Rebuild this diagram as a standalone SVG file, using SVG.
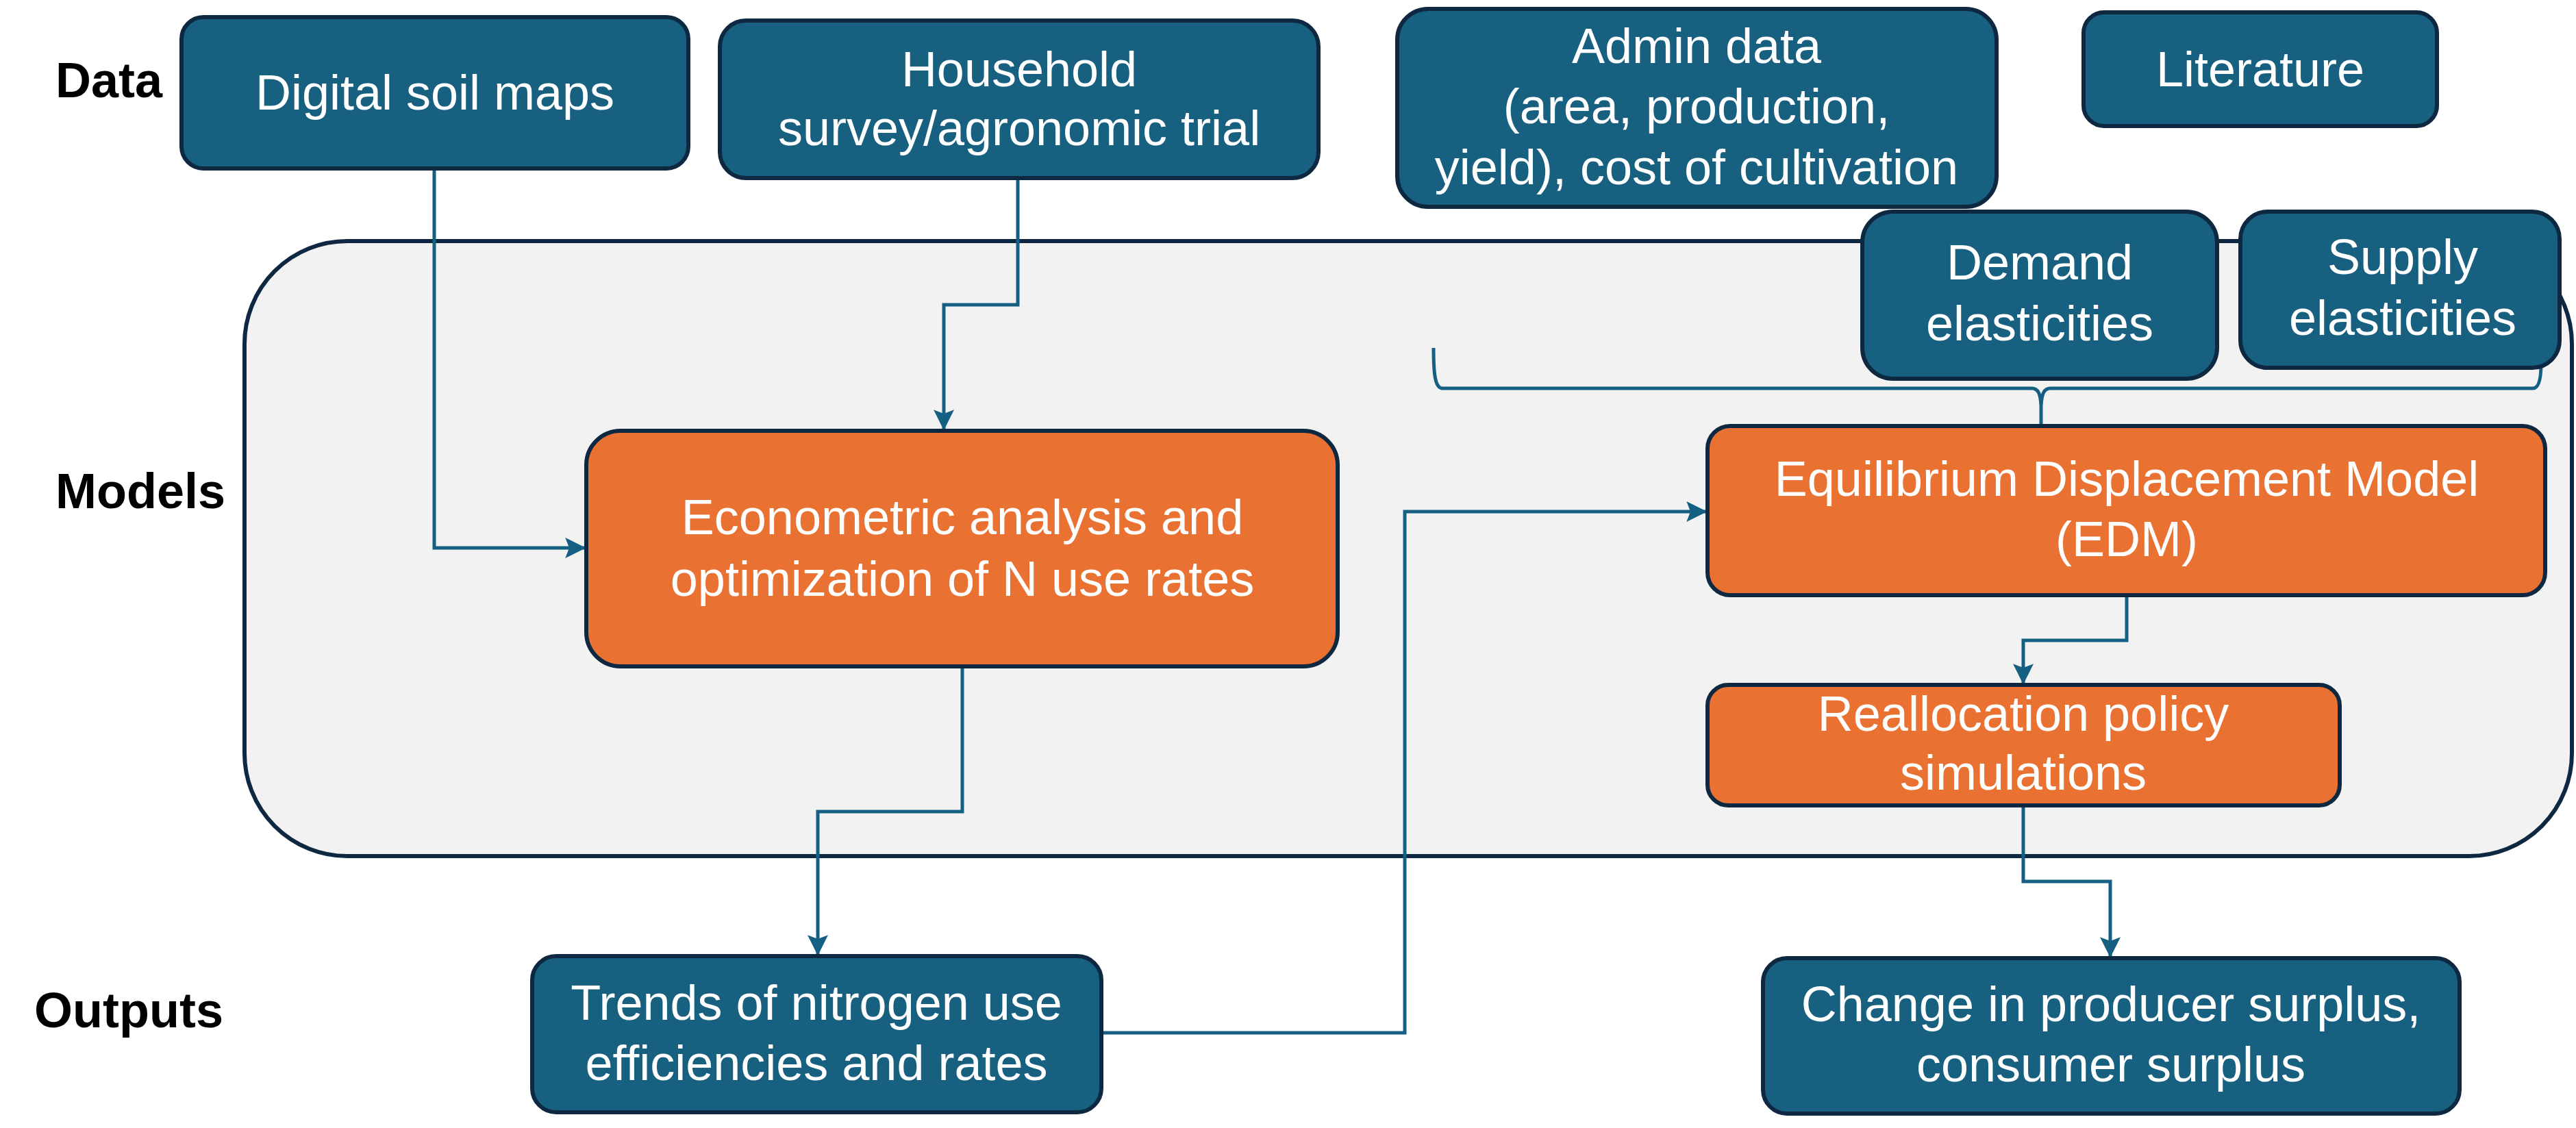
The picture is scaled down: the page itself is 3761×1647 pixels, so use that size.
<svg xmlns="http://www.w3.org/2000/svg" width="3761" height="1647" viewBox="0 0 3761 1647">
<defs>
<style>
.blue{fill:#17607F;stroke:#0E2841;stroke-width:6}
.orange{fill:#E97132;stroke:#0E2841;stroke-width:6}
.t{font-family:"Liberation Sans",Arial,sans-serif;font-size:72px;fill:#FFFFFF;text-anchor:middle}
.lbl{font-family:"Liberation Sans",Arial,sans-serif;font-size:72px;font-weight:bold;fill:#000000}
.conn{fill:none;stroke:#156082;stroke-width:5}
</style>
<marker id="arr" markerUnits="userSpaceOnUse" markerWidth="30" markerHeight="30" viewBox="0 0 26 26" refX="24" refY="13" orient="auto">
<path d="M0,0 L26,13 L0,26 L5,13 Z" fill="#156082"/>
</marker>
</defs>
<rect width="3761" height="1647" fill="#FFFFFF"/>

<g id="labels">
<text class="lbl" x="81" y="142">Data</text>
<text class="lbl" x="81" y="742">Models</text>
<text class="lbl" x="50" y="1500">Outputs</text>
</g>

<g id="models-container">
<rect x="357" y="352" width="3398" height="898" rx="150" ry="150" fill="#F2F2F2" stroke="#0E2841" stroke-width="6"/>
</g>

<g id="brace">
<path class="conn" d="M2093,508 C2093,545 2095,567 2106,567 L2966,567 C2976,567 2979,575 2980,592 L2980,622 M2980,592 C2981,575 2984,567 2994,567 L3698,567 C3708,567 3710,548 3710,531"/>
</g>

<g id="connectors">
<path class="conn" d="M634,246 L634,800 L853,800" marker-end="url(#arr)"/>
<path class="conn" d="M1486,260 L1486,445 L1378,445 L1378,626" marker-end="url(#arr)"/>
<path class="conn" d="M1405,973 L1405,1185 L1194,1185 L1194,1393" marker-end="url(#arr)"/>
<path class="conn" d="M1608,1508 L2051,1508 L2051,747 L2490,747" marker-end="url(#arr)"/>
<path class="conn" d="M3105,869 L3105,935 L2954,935 L2954,997" marker-end="url(#arr)"/>
<path class="conn" d="M2954,1176 L2954,1287 L3081,1287 L3081,1396" marker-end="url(#arr)"/>
</g>

<g id="digital-soil-maps">
<rect class="blue" x="265" y="25" width="740" height="221" rx="32"/>
<text class="t" x="635" y="160">Digital soil maps</text>
</g>

<g id="household-survey">
<rect class="blue" x="1051" y="30" width="874" height="230" rx="38"/>
<text class="t" x="1488" y="126">Household</text>
<text class="t" x="1488" y="212">survey/agronomic trial</text>
</g>

<g id="admin-data">
<rect class="blue" x="2040" y="13" width="875" height="289" rx="45"/>
<text class="t" x="2477" y="92">Admin data</text>
<text class="t" x="2477" y="180">(area, production,</text>
<text class="t" x="2477" y="269">yield), cost of cultivation</text>
</g>

<g id="literature">
<rect class="blue" x="3042" y="18" width="516" height="166" rx="30"/>
<text class="t" x="3300" y="126">Literature</text>
</g>

<g id="demand-elasticities">
<rect class="blue" x="2719" y="309" width="518" height="244" rx="45"/>
<text class="t" x="2978" y="408">Demand</text>
<text class="t" x="2978" y="497">elasticities</text>
</g>

<g id="supply-elasticities">
<rect class="blue" x="3271" y="309" width="466" height="228" rx="40"/>
<text class="t" x="3508" y="400">Supply</text>
<text class="t" x="3508" y="489">elasticities</text>
</g>

<g id="econometric-analysis">
<rect class="orange" x="856" y="629" width="1097" height="344" rx="50"/>
<text class="t" x="1405" y="780">Econometric analysis and</text>
<text class="t" x="1405" y="870">optimization of N use rates</text>
</g>

<g id="edm">
<rect class="orange" x="2493" y="622" width="1223" height="247" rx="33"/>
<text class="t" x="3105" y="724">Equilibrium Displacement Model</text>
<text class="t" x="3105" y="812">(EDM)</text>
</g>

<g id="reallocation">
<rect class="orange" x="2493" y="1000" width="923" height="176" rx="30"/>
<text class="t" x="2954" y="1067">Reallocation policy</text>
<text class="t" x="2954" y="1153">simulations</text>
</g>

<g id="trends">
<rect class="blue" x="777" y="1396" width="831" height="228" rx="35"/>
<text class="t" x="1192" y="1489">Trends of nitrogen use</text>
<text class="t" x="1192" y="1577">efficiencies and rates</text>
</g>

<g id="surplus">
<rect class="blue" x="2574" y="1399" width="1017" height="227" rx="35"/>
<text class="t" x="3082" y="1491">Change in producer surplus,</text>
<text class="t" x="3082" y="1579">consumer surplus</text>
</g>
</svg>
